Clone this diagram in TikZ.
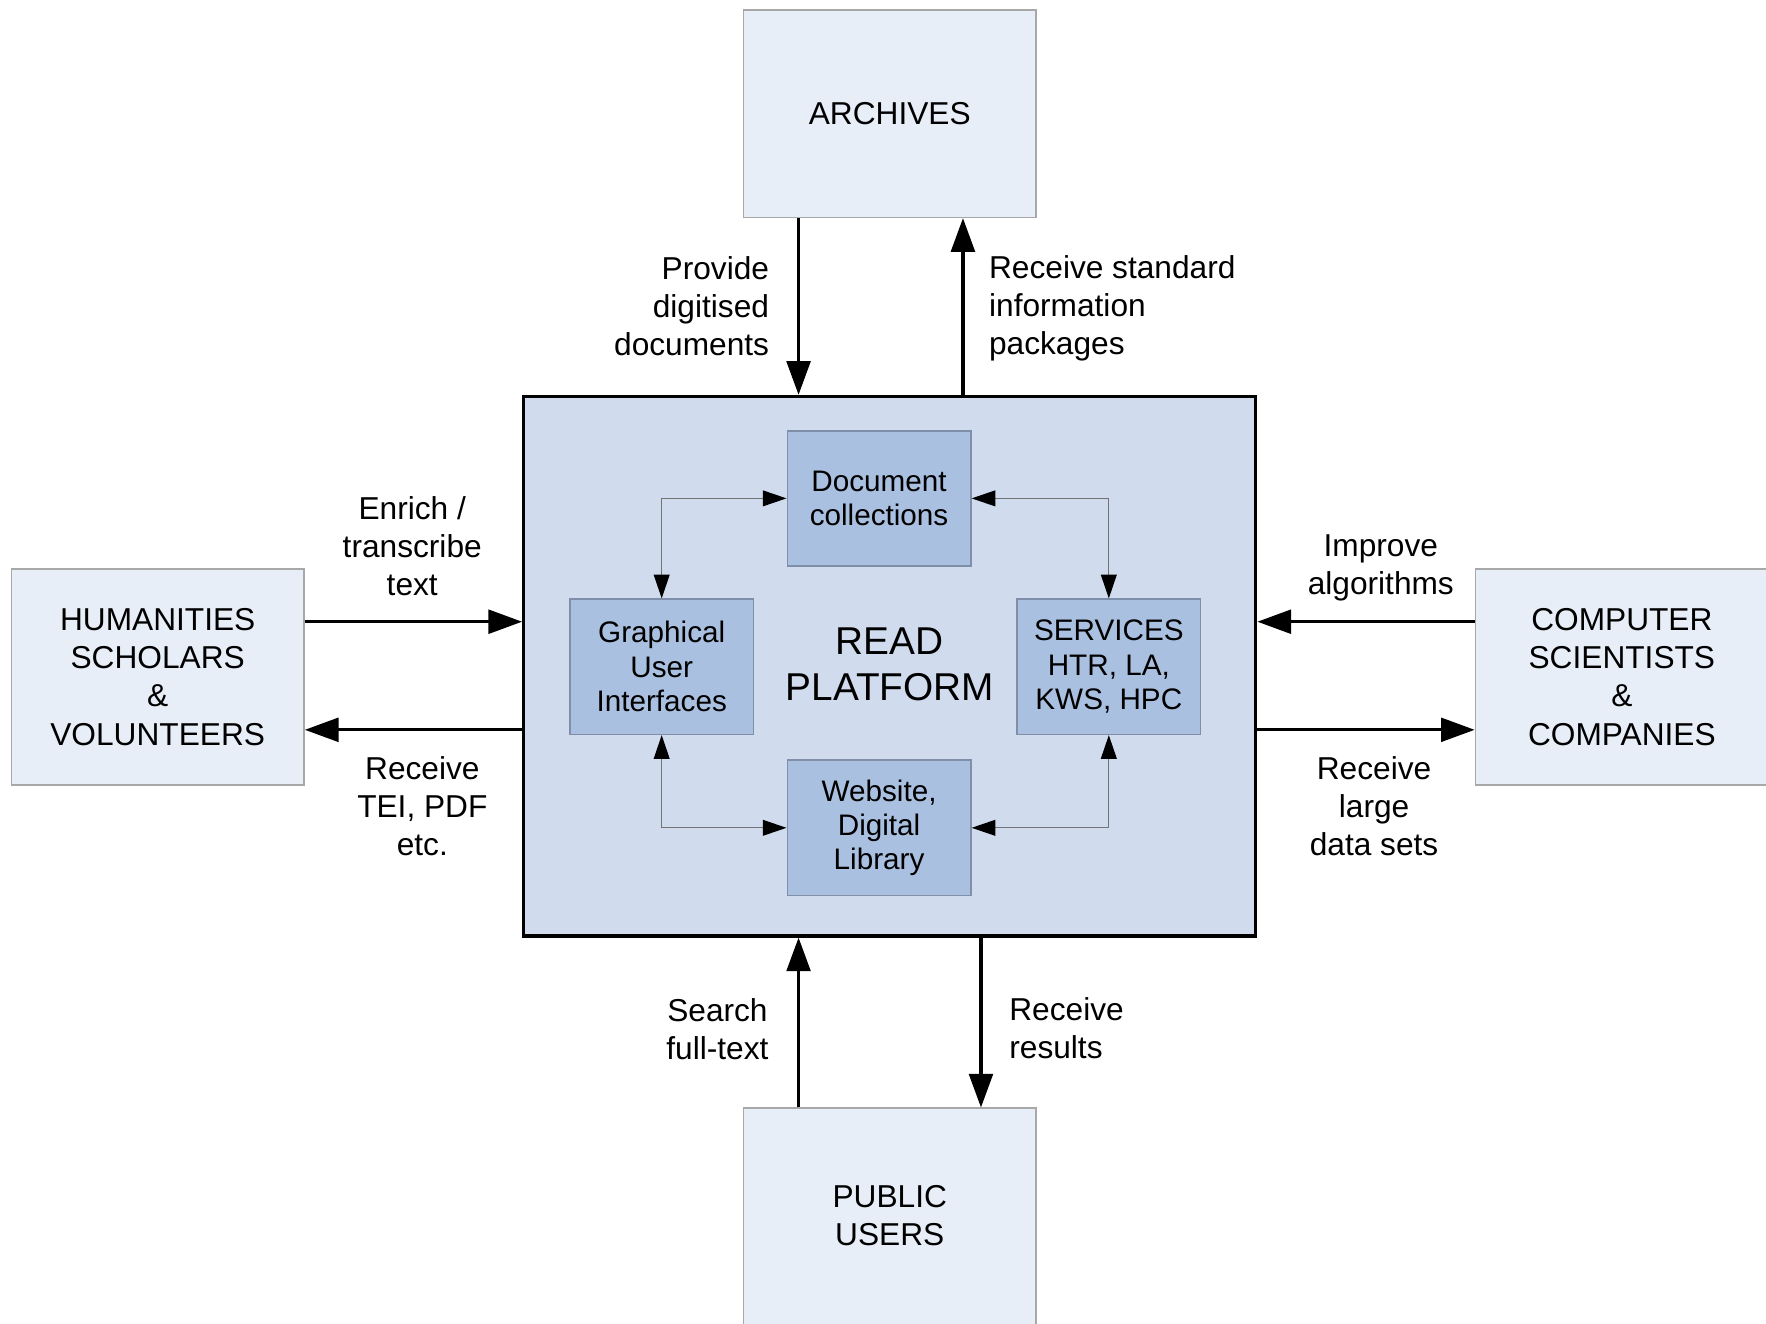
\documentclass[tikz,border=0pt]{standalone}
\usepackage{fontspec}
\setmainfont{Liberation Sans}
\usepackage{tikz}
\usetikzlibrary{calc}
\usetikzlibrary{arrows.meta}
\definecolor{outerfill}{HTML}{E8EEF8}
\definecolor{platfill}{HTML}{D0DCEE}
\definecolor{innerfill}{HTML}{AAC0E0}
\definecolor{innerline}{HTML}{7F8FAA}
\definecolor{outerline}{HTML}{A8A8A8}
\tikzset{
  actor/.style={draw=outerline, line width=0.8pt, fill=outerfill, align=center,
    minimum width=5.2cm, font=\fontsize{16}{19.3}\selectfont},
  part/.style={draw=innerline, line width=0.8pt, fill=innerfill, align=center,
    minimum width=3.26cm, minimum height=2.4cm, font=\fontsize{15}{17.4}\selectfont},
  flow/.style={line width=1.6pt, -{Triangle[length=17pt,width=12pt]}},
  link/.style={draw=gray!90!black, line width=0.6pt,
    {Triangle[length=12pt,width=8pt,black]}-{Triangle[length=12pt,width=8pt,black]}},
  lbl/.style={font=\fontsize{16}{19.3}\selectfont}
}
\begin{document}
\begin{tikzpicture}[x=0.02cm,y=-0.02cm]
        \useasboundingbox (0,0) rectangle (1568,1175);
        %platform
        \node[draw, line width=1.7pt, fill=platfill, minimum width=13cm, minimum height=9.58cm] (platform) at (790,591.5) {};
        \node[font=\fontsize{19.6}{23.3}\selectfont, align=center] (read) at (790,590) {READ\\PLATFORM};
        %parts
        \node[part] (doc) at (780.5,442.5) {Document\\collections};
        \node[part] (gui) at (587.5,592) {Graphical\\User\\Interfaces};
        \node[part] (serv) at (984.5,592) {SERVICES\\HTR, LA,\\KWS, HPC};
        \node[part] (web) at (780.5,735) {Website,\\Digital\\Library};
        \draw[link] (doc.west) -| (gui.north);
        \draw[link] (doc.east) -| (serv.north);
        \draw[link] (web.west) -| (gui.south);
        \draw[link] (web.east) -| (serv.south);
        %actors
        \node[actor, minimum height=3.68cm] (archives) at (790,101) {ARCHIVES};
        \node[actor, minimum height=3.84cm] (hum) at (140,601) {HUMANITIES\\SCHOLARS\\\&\\VOLUNTEERS};
        \node[actor, minimum height=3.84cm] (comp) at (1440,601) {COMPUTER\\SCIENTISTS\\\&\\COMPANIES};
        \node[actor, minimum height=3.92cm] (public) at (790,1082) {};
        \node[font=\fontsize{16}{19.3}\selectfont, align=center] (publictext) at (790,1079) {PUBLIC\\USERS};
        %flows
        \draw[flow] ([xshift=-1.62cm]archives.south) -- ([xshift=-1.62cm]platform.north);
        \draw[flow] ([xshift=1.3cm]platform.north) -- ([xshift=1.3cm]archives.south);
        \draw[flow] ([yshift=0.98cm]hum.east) -- ([yshift=0.98cm]hum.east -| platform.west);
        \draw[flow] ([yshift=-0.94cm]hum.east -| platform.west) -- ([yshift=-0.94cm]hum.east);
        \draw[flow] ([yshift=0.98cm]comp.west) -- ([yshift=0.98cm]comp.west -| platform.east);
        \draw[flow] ([yshift=-0.94cm]comp.west -| platform.east) -- ([yshift=-0.94cm]comp.west);
        \draw[flow] ([xshift=-1.62cm]public.north) -- ([xshift=-1.62cm]platform.south);
        \draw[flow] ([xshift=1.62cm]platform.south) -- ([xshift=1.62cm]public.north);
        %labels
        \node[lbl, anchor=east, align=right] (lprov) at (689,272) {Provide\\digitised\\documents};
        \node[lbl, anchor=west, align=left] (lstd) at (872,274) {Receive standard\\information\\packages};
        \node[lbl, align=center] (lenrich) at (366,485) {Enrich /\\transcribe\\text};
        \node[lbl, align=center] (ltei) at (375,716) {Receive\\TEI, PDF\\etc.};
        \node[lbl, align=center] (limprove) at (1226,504) {Improve\\algorithms};
        \node[lbl, align=center] (llarge) at (1220,716) {Receive\\large\\data sets};
        \node[lbl, align=center] (lsearch) at (637,914) {Search\\full-text};
        \node[lbl, anchor=west, align=left] (lresults) at (890,913) {Receive\\results};
\end{tikzpicture}
\end{document}
